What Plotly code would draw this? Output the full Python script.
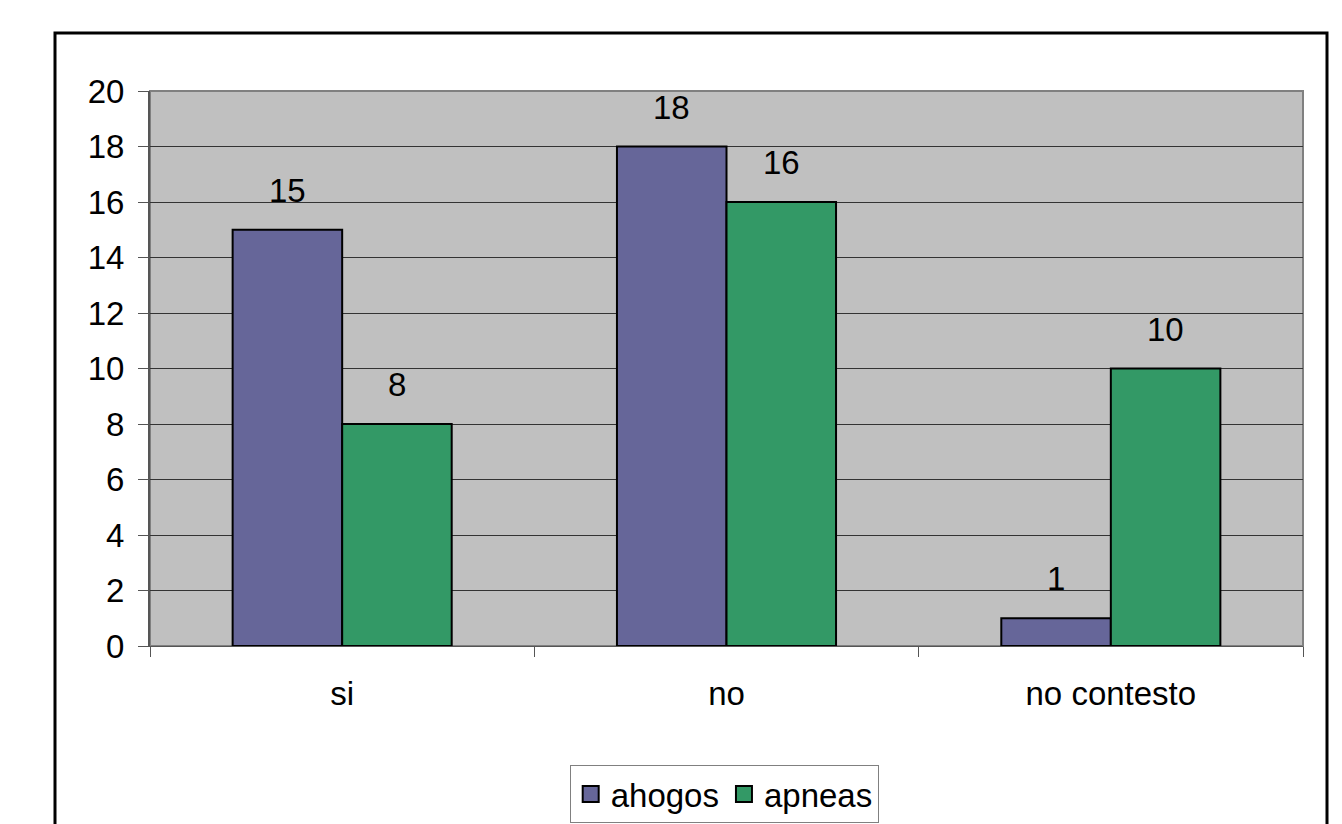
import plotly.graph_objects as go

categories = ["si", "no", "no contesto"]
ahogos = [15, 18, 1]
apneas = [8, 16, 10]
series_names = ["ahogos", "apneas"]
y_ticks = list(range(0, 21, 2))

FONT = "Liberation Sans, Arial, sans-serif"
W, H = 1342, 824
L, R, T, B = 150, 39, 91, 178
pw, ph = W - L - R, H - T - B

fig = go.Figure()
colors = ["#666699", "#339966"]
for name, vals, col in zip(series_names, [ahogos, apneas], colors):
    fig.add_trace(go.Bar(
        x=categories, y=vals, name=name, showlegend=False,
        marker=dict(color=col, line=dict(color="#000000", width=2)),
    ))
# legend entries with larger square swatches
for name, col in zip(series_names, colors):
    fig.add_trace(go.Scatter(
        x=[None], y=[None], mode="markers", name=name,
        marker=dict(symbol="square", size=17, color=col,
                    line=dict(color="#000000", width=2)),
    ))

# value labels above each bar
half = pw / 3 * (1 - 0.43) / 4
for vals, dx in [(ahogos, -half), (apneas, half)]:
    for c, v in zip(categories, vals):
        fig.add_annotation(
            x=c, y=v, text=str(v), showarrow=False,
            xshift=dx, yshift=19, yanchor="bottom",
            font=dict(family=FONT, size=33, color="#000000"),
        )

# outer chart frame
fig.add_shape(
    type="rect", xref="paper", yref="paper",
    x0=(55 - L) / pw, x1=(1327 - L) / pw,
    y0=(646 - 900) / ph, y1=(646 - 33) / ph,
    line=dict(color="#000000", width=3), layer="below",
)
# plot area border
fig.add_shape(
    type="rect", xref="paper", yref="paper", x0=0, x1=1, y0=0, y1=1,
    line=dict(color="#808080", width=2), layer="below",
)

fig.update_layout(
    width=W, height=H,
    margin=dict(l=L, r=R, t=T, b=B, autoexpand=False),
    paper_bgcolor="#ffffff",
    plot_bgcolor="#C0C0C0",
    barmode="group", bargap=0.43, bargroupgap=0,
    font=dict(family=FONT, size=33, color="#000000"),
    showlegend=True,
    legend=dict(
        orientation="h", x=0.498, xanchor="center", y=(646 - 765) / ph, yanchor="top",
        bordercolor="#808080", borderwidth=1, bgcolor="#ffffff",
        font=dict(family=FONT, size=33), itemsizing="trace",
        itemwidth=30, traceorder="normal", tracegroupgap=0,
    ),
    xaxis=dict(
        type="category", tickson="boundaries", ticks="outside", ticklen=10,
        tickcolor="#555555", showline=True, linecolor="#555555", linewidth=1,
        showgrid=False, tickfont=dict(family=FONT, size=33),
        ticklabelstandoff=18, range=[-0.5, 2.5],
    ),
    yaxis=dict(
        range=[0, 20], tickvals=y_ticks, ticks="outside", ticklen=10,
        tickcolor="#555555", showline=True, linecolor="#555555", linewidth=2,
        showgrid=True, gridcolor="#333333", gridwidth=1, zeroline=False,
        tickfont=dict(family=FONT, size=33), ticklabelstandoff=7,
    ),
)

fig.write_html("out.html")
